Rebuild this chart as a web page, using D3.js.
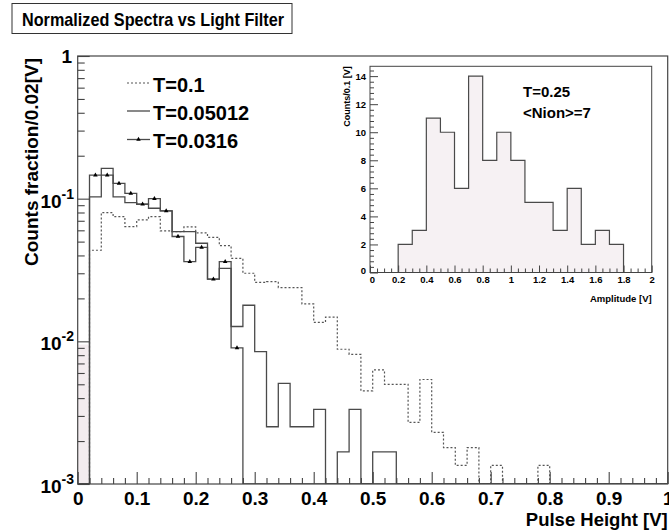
<!DOCTYPE html>
<html>
<head>
<meta charset="utf-8">
<script src="https://cdn.jsdelivr.net/npm/d3@7"></script>
<style>
  html, body { margin: 0; padding: 0; background: #fff; }
  svg { display: block; }
  text { font-family: "Liberation Sans", Arial, Helvetica, sans-serif; font-weight: bold; fill: #000; }
</style>
</head>
<body>
<svg id="chart" width="669" height="531"></svg>
<script>
// ---- main spectra: 50 bins of 0.02 V ----
const binWidth = 0.02;
const binStart = [0, 0.02, 0.04, 0.06, 0.08, 0.10, 0.12, 0.14, 0.16, 0.18,
                  0.20, 0.22, 0.24, 0.26, 0.28, 0.30, 0.32, 0.34, 0.36, 0.38,
                  0.40, 0.42, 0.44, 0.46, 0.48, 0.50, 0.52, 0.54, 0.56, 0.58,
                  0.60, 0.62, 0.64, 0.66, 0.68, 0.70, 0.72, 0.74, 0.76, 0.78,
                  0.80, 0.82, 0.84, 0.86, 0.88, 0.90, 0.92, 0.94, 0.96, 0.98];

const seriesNames = ["T=0.1", "T=0.05012", "T=0.0316"];

const countsT0100 = [0, 0.0435, 0.0798, 0.0748, 0.0637, 0.0709, 0.0748, 0.0594, 0.0587, 0.0634,
                     0.0575, 0.0536, 0.0469, 0.0382, 0.0300, 0.0259, 0.0262, 0.0238, 0.0238, 0.0183,
                     0.0136, 0.0148, 0.0088, 0.0081, 0.0045, 0.0063, 0.0050, 0.0050, 0.0027, 0.0054,
                     0.0023, 0.0018, 0.00135, 0.0018, 0, 0.00135, 0, 0, 0, 0.00135,
                     0, 0, 0, 0, 0, 0, 0, 0, 0, 0];

const countsT0501 = [0, 0.103, 0.163, 0.103, 0.0937, 0.0914, 0.0857, 0.082, 0.0587, 0.0587,
                     0.0487, 0.0273, 0.0325, 0.0127, 0.0179, 0.00847, 0.00252, 0.00508, 0.00252, 0.00252,
                     0.00334, 0, 0.00168, 0.00334, 0, 0.00168, 0.00168, 0, 0, 0,
                     0, 0, 0, 0, 0, 0, 0, 0, 0, 0,
                     0, 0, 0, 0, 0, 0, 0, 0, 0, 0];

const countsT0316 = [0, 0.146, 0.146, 0.128, 0.109, 0.0914, 0.100, 0.082, 0.0543, 0.0362,
                     0.0455, 0.0273, 0.0362, 0.0090, 0, 0, 0, 0, 0, 0,
                     0, 0, 0, 0, 0, 0, 0, 0, 0, 0,
                     0, 0, 0, 0, 0, 0, 0, 0, 0, 0,
                     0, 0, 0, 0, 0, 0, 0, 0, 0, 0];

// pedestal bin (first bin only), drawn filled
const pedestalValues = [0.0095];

const xTickValues = [0, 0.1, 0.2, 0.3, 0.4, 0.5, 0.6, 0.7, 0.8, 0.9, 1];
const xTickLabels = ["0", "0.1", "0.2", "0.3", "0.4", "0.5", "0.6", "0.7", "0.8", "0.9", "1"];
const yTickValues = [1, 0.1, 0.01, 0.001];
const yTickExponents = [null, "-1", "-2", "-3"];

// ---- inset: amplitude spectrum, 0.1 V bins ----
const ampBinWidth = 0.1;
const ampStart = [0, 0.1, 0.2, 0.3, 0.4, 0.5, 0.6, 0.7, 0.8, 0.9,
                  1.0, 1.1, 1.2, 1.3, 1.4, 1.5, 1.6, 1.7, 1.8, 1.9];
const ampCounts = [0, 0, 2, 3, 11, 10, 6, 14, 8, 10,
                   8, 5, 5, 3, 6, 2, 3, 2, 0, 0];
const insetXTicks = [0, 0.2, 0.4, 0.6, 0.8, 1, 1.2, 1.4, 1.6, 1.8, 2];
const insetXLabels = ["0", "0.2", "0.4", "0.6", "0.8", "1", "1.2", "1.4", "1.6", "1.8", "2"];
const insetYTicks = [0, 2, 4, 6, 8, 10, 12, 14];
const insetNotes = ["T=0.25", "<Nion>=7"];

const svg = d3.select("#chart");
const frameColor = "#444";
const lineColor = "#4a4a4a";

// ---------- main frame ----------
const frame = { left: 77.7, right: 667.7, top: 56, bottom: 484 };
const x = d3.scaleLinear().domain([0, 1]).range([frame.left, frame.right]);
const y = d3.scaleLog().domain([1e-3, 1]).range([frame.bottom, frame.top]);

svg.append("defs").append("clipPath").attr("id", "clipMain")
  .append("rect")
  .attr("x", frame.left).attr("y", frame.top)
  .attr("width", frame.right - frame.left).attr("height", frame.bottom - frame.top);

const plot = svg.append("g").attr("clip-path", "url(#clipMain)");

plot.selectAll("rect.pedestal").data(pedestalValues).join("rect")
  .attr("class", "pedestal")
  .attr("x", (d, i) => x(binStart[i]))
  .attr("width", (d, i) => x(binStart[i] + binWidth) - x(binStart[i]))
  .attr("y", d => y(d))
  .attr("height", d => frame.bottom - y(d))
  .attr("fill", "#f3ecef");

// histogram outline as a step path; empty bins drop to the frame bottom
function stepPath(values, starts, width, xs, ys, floor) {
  let d = `M${xs(starts[0])},${floor}`;
  values.forEach((v, i) => {
    const yy = v > 0 ? ys(v) : floor;
    d += `L${xs(starts[i])},${yy}L${xs(starts[i] + width)},${yy}`;
  });
  d += `L${xs(starts[starts.length - 1] + width)},${floor}`;
  return d;
}

const seriesStyle = [
  { values: countsT0100, dash: "2,2", color: "#555", width: 1.2, marker: false },
  { values: countsT0501, dash: null, color: lineColor, width: 1.3, marker: false },
  { values: countsT0316, dash: null, color: lineColor, width: 1.3, marker: true }
];

seriesStyle.forEach(s => {
  plot.append("path")
    .attr("d", stepPath(s.values, binStart, binWidth, x, y, frame.bottom))
    .attr("fill", "none")
    .attr("stroke", s.color)
    .attr("stroke-width", s.width)
    .attr("stroke-dasharray", s.dash);
  if (s.marker) {
    const pts = s.values.map((v, i) => ({ v, c: binStart[i] + binWidth / 2 })).filter(p => p.v > 0);
    plot.selectAll(null).data(pts).join("path")
      .attr("transform", p => `translate(${x(p.c)},${y(p.v)})`)
      .attr("d", d3.symbol(d3.symbolTriangle, 9))
      .attr("fill", "#000");
  }
});

// frame box
svg.append("rect")
  .attr("x", frame.left).attr("y", frame.top)
  .attr("width", frame.right - frame.left).attr("height", frame.bottom - frame.top)
  .attr("fill", "none").attr("stroke", frameColor).attr("stroke-width", 1.2);

// x axis ticks (inside the frame)
const xMinor = d3.range(0, 50).map(i => i * 0.02).filter(v => Math.abs(v * 10 - Math.round(v * 10)) > 1e-6);
svg.append("g").attr("transform", `translate(0,${frame.bottom})`).attr("color", frameColor)
  .call(d3.axisBottom(x).tickValues(xMinor).tickSize(-6).tickFormat(""))
  .call(g => g.select(".domain").remove())
  .call(g => g.selectAll("line").attr("stroke-width", 1.1));
const xMajorG = svg.append("g").attr("transform", `translate(0,${frame.bottom})`).attr("color", frameColor)
  .call(d3.axisBottom(x).tickValues(xTickValues).tickSize(-12).tickFormat((d, i) => xTickLabels[i]).tickPadding(0))
  .call(g => g.select(".domain").remove())
  .call(g => g.selectAll("line").attr("stroke-width", 1.1));
xMajorG.selectAll("text")
  .attr("y", 21).attr("dy", null)
  .attr("font-size", 19).attr("font-family", null).attr("fill", "#000");

// y axis ticks (log, inside the frame)
const yMinor = [];
[-3, -2, -1].forEach(e => { for (let m = 2; m <= 9; m++) yMinor.push(m * Math.pow(10, e)); });
svg.append("g").attr("transform", `translate(${frame.left},0)`).attr("color", frameColor)
  .call(d3.axisLeft(y).tickValues(yMinor).tickSize(-7).tickFormat(""))
  .call(g => g.select(".domain").remove())
  .call(g => g.selectAll("line").attr("stroke-width", 1.1));
svg.append("g").attr("transform", `translate(${frame.left},0)`).attr("color", frameColor)
  .call(d3.axisLeft(y).tickValues(yTickValues).tickSize(-12).tickFormat(""))
  .call(g => g.select(".domain").remove())
  .call(g => g.selectAll("line").attr("stroke-width", 1.1));

// y tick labels with superscript exponents
yTickValues.forEach((v, i) => {
  const t = svg.append("text")
    .attr("x", 74).attr("text-anchor", "end");
  if (yTickExponents[i] === null) {
    t.attr("x", 72).attr("y", y(v) + 7).attr("font-size", 19).text("1");
  } else {
    t.attr("y", y(v) + 9).attr("font-size", 19);
    t.append("tspan").text("10");
    t.append("tspan").attr("font-size", 14).attr("dy", -9).text(yTickExponents[i]);
  }
});

// axis titles
svg.append("text")
  .attr("x", frame.right).attr("y", 526)
  .attr("text-anchor", "end").attr("font-size", 18.5)
  .text("Pulse Height [V]");
svg.append("text")
  .attr("transform", `translate(38,${frame.top + 2}) rotate(-90)`)
  .attr("text-anchor", "end").attr("font-size", 19)
  .text("Counts fraction/0.02[V]");

// title box
const titleG = svg.append("g");
titleG.append("rect")
  .attr("x", 12).attr("y", 3.5).attr("width", 280).attr("height", 30)
  .attr("fill", "#fff").attr("stroke", "#333").attr("stroke-width", 1);
titleG.append("text")
  .attr("x", 22).attr("y", 26).attr("font-size", 19)
  .attr("textLength", 262).attr("lengthAdjust", "spacingAndGlyphs")
  .text("Normalized Spectra vs Light Filter");

// legend
const legendRows = [83, 111, 139.5];
seriesStyle.forEach((s, i) => {
  const ly = legendRows[i];
  svg.append("line")
    .attr("x1", 127).attr("x2", 150).attr("y1", ly).attr("y2", ly)
    .attr("stroke", s.color).attr("stroke-width", s.width)
    .attr("stroke-dasharray", s.dash);
  if (s.marker) {
    svg.append("path")
      .attr("transform", `translate(138.5,${ly})`)
      .attr("d", d3.symbol(d3.symbolTriangle, 9))
      .attr("fill", "#000");
  }
  svg.append("text")
    .attr("x", 153).attr("y", ly + 8.5)
    .attr("font-size", 20)
    .text(seriesNames[i]);
});

// ---------- inset ----------
const inset = { left: 370, right: 651.7, top: 66.3, bottom: 272.5 };
const xi = d3.scaleLinear().domain([0, 2]).range([inset.left, inset.right]);
const yi = d3.scaleLinear().domain([0, 14.7]).range([inset.bottom, inset.top]);

const insetG = svg.append("g");
const ampPath = stepPath(ampCounts, ampStart, ampBinWidth, xi, yi, inset.bottom);
insetG.append("path")
  .attr("d", ampPath + "Z")
  .attr("fill", "#f6f1f3").attr("stroke", "none");
insetG.append("path")
  .attr("d", ampPath)
  .attr("fill", "none").attr("stroke", lineColor).attr("stroke-width", 1.2);

insetG.append("rect")
  .attr("x", inset.left).attr("y", inset.top)
  .attr("width", inset.right - inset.left).attr("height", inset.bottom - inset.top)
  .attr("fill", "none").attr("stroke", frameColor).attr("stroke-width", 1);

const insetXMinor = d3.range(0, 41).map(i => i * 0.05).filter(v => Math.abs(v * 5 - Math.round(v * 5)) > 1e-6);
insetG.append("g").attr("transform", `translate(0,${inset.bottom})`).attr("color", frameColor)
  .call(d3.axisBottom(xi).tickValues(insetXMinor).tickSize(-4).tickFormat(""))
  .call(g => g.select(".domain").remove());
const ixG = insetG.append("g").attr("transform", `translate(0,${inset.bottom})`).attr("color", frameColor)
  .call(d3.axisBottom(xi).tickValues(insetXTicks).tickSize(-7).tickFormat((d, i) => insetXLabels[i]))
  .call(g => g.select(".domain").remove());
ixG.selectAll("text")
  .attr("y", 10).attr("dy", null)
  .attr("font-size", 9.5).attr("font-family", null).attr("fill", "#000");
ixG.selectAll(".tick").filter(d => d === 0).select("text").attr("dx", 2);

const insetYMinor = d3.range(0, 37).map(i => i * 0.4).filter(v => v <= 14.7 && Math.abs(v / 2 - Math.round(v / 2)) > 1e-6);
insetG.append("g").attr("transform", `translate(${inset.left},0)`).attr("color", frameColor)
  .call(d3.axisLeft(yi).tickValues(insetYMinor).tickSize(-4).tickFormat(""))
  .call(g => g.select(".domain").remove());
const iyG = insetG.append("g").attr("transform", `translate(${inset.left},0)`).attr("color", frameColor)
  .call(d3.axisLeft(yi).tickValues(insetYTicks).tickSize(-8).tickPadding(4))
  .call(g => g.select(".domain").remove());
iyG.selectAll("text")
  .attr("x", -4).attr("dy", "0.35em")
  .attr("font-size", 9.5).attr("font-family", null).attr("fill", "#000");
iyG.selectAll(".tick").filter(d => d === 0).select("text").attr("dy", "0.1em");

insetG.append("text")
  .attr("x", inset.right).attr("y", 302)
  .attr("text-anchor", "end").attr("font-size", 9.5)
  .text("Amplitude [V]");
insetG.append("text")
  .attr("transform", `translate(350,${inset.top}) rotate(-90)`)
  .attr("text-anchor", "end").attr("font-size", 9)
  .text("Counts/0.1 [V]");

insetNotes.forEach((s, i) => {
  insetG.append("text")
    .attr("x", 523).attr("y", 97 + i * 21)
    .attr("font-size", 15)
    .text(s);
});
</script>
</body>
</html>
